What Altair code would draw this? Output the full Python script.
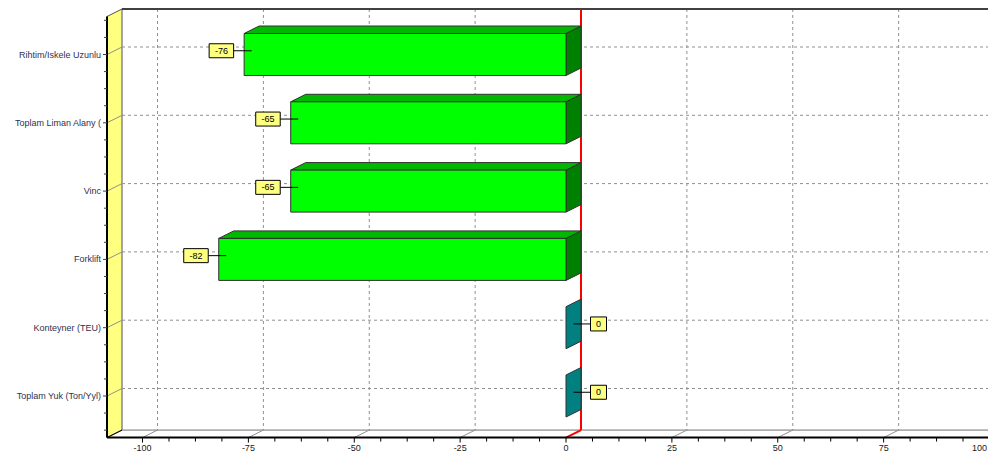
import altair as alt
import pandas as pd

# ---------------- data ----------------
categories = ["Rihtim/Iskele Uzunlu", "Toplam Liman Alany (", "Vinc", "Forklift",
              "Konteyner (TEU)", "Toplam Yuk (Ton/Yyl)"]
values = [-76, -65, -65, -82, 0, 0]
front_colors = ["#00FF00", "#00FF00", "#00FF00", "#00FF00", "#00A0A0", "#00A0A0"]
top_colors = ["#00B800", "#00B800", "#00B800", "#00B800", "#009090", "#009090"]
side_colors = ["#008000", "#008000", "#008000", "#008000", "#008080", "#008080"]
x_ticks = [-100, -75, -50, -25, 0, 25, 50, 75, 100]

# ---------------- layout ----------------
W, H = 980, 446
PX = 4.235          # pixels per value unit
ROW = 68.3          # pixels per category
X0 = 558.0          # front zero (chart px)
Y0 = 46.5           # first category centre (chart px)
XDOM = [-X0 / PX, (W - X0) / PX]
YDOM = [-Y0 / ROW, (H - Y0) / ROW]

DX = 15 / PX        # depth offset in value units
DY = -7.5 / ROW     # depth offset in row units
HALF = 21 / ROW     # half bar thickness


def ux(px):
    return px / PX


def uy(px):
    return px / ROW


LEFT_F = (99 - X0) / PX
LEFT_B = LEFT_F + DX
RIGHT = XDOM[1] + 10
BOT_F = 5.6087
BOT_B = BOT_F + DY
TOP_B = (1.0 - Y0) / ROW
TOP_F = TOP_B - DY

xs = alt.Scale(domain=XDOM, nice=False, zero=False)
ys = alt.Scale(domain=YDOM, nice=False, zero=False, reverse=True)


def X(f="x"):
    return alt.X(f"{f}:Q", scale=xs, axis=None)


def Y(f="y"):
    return alt.Y(f"{f}:Q", scale=ys, axis=None)


def rules(rows, color, width=1, dash=None):
    df = pd.DataFrame(rows)
    kw = dict(color=color, strokeWidth=width, clip=True)
    if dash:
        kw["strokeDash"] = dash
    enc = dict(x=X("x"), y=Y("y"))
    if "x2" in df:
        enc["x2"] = alt.X2("x2:Q")
    if "y2" in df:
        enc["y2"] = alt.Y2("y2:Q")
    return alt.Chart(df).mark_rule(**kw).encode(**enc)


n = len(categories)
idx = list(range(n))

# ---------------- frame ----------------
wall = alt.Chart(pd.DataFrame({
    "x": [LEFT_F, LEFT_B], "y": [TOP_F, TOP_B], "y2": [BOT_F, BOT_B]
})).mark_area(fill="#FFFF80", stroke="#505050", strokeWidth=1, orient="vertical").encode(
    x=X("x"), y=Y("y"), y2=alt.Y2("y2:Q"))

wall_left = rules([{"x": LEFT_F, "y": TOP_F, "y2": BOT_F}], "#000000", 2)
back_top = rules([{"x": LEFT_B, "x2": RIGHT, "y": TOP_B}], "#404040", 2)
back_bottom = rules([{"x": LEFT_B, "x2": RIGHT, "y": BOT_B}], "#707070", 1)
front_bottom = rules([{"x": LEFT_F, "x2": RIGHT, "y": BOT_F}], "#000000", 2)
wall_bottom = rules([{"x": LEFT_F, "y": BOT_F, "x2": LEFT_B, "y2": BOT_B}], "#000000", 1)

# vertical grid
vgrid = rules([{"x": t + DX, "y": TOP_B, "y2": BOT_B} for t in x_ticks if t != 0],
              "#909090", 1, [3, 3])
vdiag = rules([{"x": t + DX, "y": BOT_B, "x2": t, "y2": BOT_F} for t in x_ticks if t != 0],
              "#909090", 1)
# horizontal grid
hgrid = rules([{"x": LEFT_B, "x2": RIGHT, "y": i + DY} for i in idx], "#909090", 1, [3, 3])
hdiag = rules([{"x": LEFT_F, "y": i, "x2": LEFT_B, "y2": i + DY} for i in idx], "#909090", 1)

# ticks
ytick = rules([{"x": LEFT_F - ux(4), "x2": LEFT_F, "y": i} for i in idx], "#404040", 1)
yminor_pos = [k / 4 for k in range(-2, 4 * n + 2) if k % 4 != 0]
yminor = rules([{"x": LEFT_F - ux(3), "x2": LEFT_F, "y": p} for p in yminor_pos
                if TOP_F < p < BOT_F], "#404040", 1)
xtick = rules([{"x": t, "y": BOT_F, "y2": BOT_F + uy(5)} for t in x_ticks], "#000000", 1)
xminor_pos = [t + k * 6.25 for t in x_ticks[:-1] for k in (1, 2, 3)]
xminor = rules([{"x": p, "y": BOT_F, "y2": BOT_F + uy(4)} for p in xminor_pos], "#000000", 1)

# zero line
red = rules([{"x": DX, "y": TOP_B, "y2": BOT_B},
             {"x": DX, "y": BOT_B, "x2": 0, "y2": BOT_F}], "#FF0000", 2)

# ---------------- bars ----------------
side_rows, top_rows, front_rows = [], [], []
for i, (c, v) in enumerate(zip(categories, values)):
    lo, hi = min(v, 0), max(v, 0)
    side_rows += [
        {"c": c, "x": hi, "y": i - HALF, "y2": i + HALF, "col": side_colors[i]},
        {"c": c, "x": hi + DX, "y": i - HALF + DY, "y2": i + HALF + DY, "col": side_colors[i]},
    ]
    if v != 0:
        top_rows += [
            {"c": c, "y": i - HALF, "x": lo, "x2": hi, "col": top_colors[i]},
            {"c": c, "y": i - HALF + DY, "x": lo + DX, "x2": hi + DX, "col": top_colors[i]},
        ]
        front_rows.append({"c": c, "x": lo, "x2": hi, "y": i - HALF, "y2": i + HALF,
                           "col": front_colors[i]})

side = alt.Chart(pd.DataFrame(side_rows)).mark_area(
    orient="vertical", stroke="#303030", strokeWidth=1).encode(
    x=X("x"), y=Y("y"), y2=alt.Y2("y2:Q"), detail="c:N",
    fill=alt.Fill("col:N", scale=None))
top = alt.Chart(pd.DataFrame(top_rows)).mark_area(
    orient="horizontal", stroke="#303030", strokeWidth=1).encode(
    y=Y("y"), x=X("x"), x2=alt.X2("x2:Q"), detail="c:N",
    fill=alt.Fill("col:N", scale=None))
front = alt.Chart(pd.DataFrame(front_rows)).mark_rect(
    stroke="#303030", strokeWidth=1).encode(
    x=X("x"), x2=alt.X2("x2:Q"), y=Y("y"), y2=alt.Y2("y2:Q"),
    fill=alt.Fill("col:N", scale=None))

# ---------------- value labels ----------------
lab_rows, line_rows = [], []
for i, v in enumerate(values):
    txt = f"{v}"
    wpx = 5 * sum(ch.isdigit() for ch in txt) + 3.5 * txt.count("-") + 11
    sx = v + DX / 2
    yy = i + DY / 2
    if v < 0:
        ex = sx - ux(18)
        bx1, bx2 = ex - ux(wpx), ex
    else:
        ex = sx + ux(17)
        bx1, bx2 = ex, ex + ux(wpx)
    line_rows.append({"x": sx, "x2": ex, "y": yy})
    lab_rows.append({"t": txt, "x1": bx1, "x2": bx2, "xc": (bx1 + bx2) / 2,
                     "y1": yy - uy(7), "y2": yy + uy(7), "y": yy})

conn = rules(line_rows, "#000000", 1)
ldf = pd.DataFrame(lab_rows)
boxes = alt.Chart(ldf).mark_rect(fill="#FFFF80", stroke="#000000", strokeWidth=1).encode(
    x=X("x1"), x2=alt.X2("x2:Q"), y=Y("y1"), y2=alt.Y2("y2:Q"))
box_text = alt.Chart(ldf).mark_text(font="Liberation Sans", fontSize=9, color="#000000",
                                    baseline="middle", align="center").encode(
    x=X("xc"), y=Y("y"), text="t:N")

# ---------------- axis labels ----------------
cat_text = alt.Chart(pd.DataFrame({"c": categories, "y": idx, "x": [LEFT_F - ux(6)] * n})).mark_text(
    font="Liberation Sans", fontSize=9, color="#303050", align="right", baseline="middle").encode(
    x=X("x"), y=Y("y"), text="c:N")

ylab = BOT_F + uy(10)
fit = [t for t in x_ticks if t + ux(10) < XDOM[1]]
edge = [t for t in x_ticks if t not in fit]
xt_text = alt.Chart(pd.DataFrame({"t": fit, "y": [ylab] * len(fit)})).mark_text(
    font="Liberation Sans", fontSize=9, color="#202020", align="center", baseline="middle"
).encode(x=X("t"), y=Y("y"), text="t:N")
xt_edge = alt.Chart(pd.DataFrame({"t": edge, "x": [XDOM[1] - ux(1)] * len(edge),
                                  "y": [ylab] * len(edge)})).mark_text(
    font="Liberation Sans", fontSize=9, color="#202020", align="right", baseline="middle"
).encode(x=X("x"), y=Y("y"), text="t:N")

chart = alt.layer(
    wall, vgrid, hgrid, back_top, back_bottom, vdiag, hdiag, red,
    side, top, front, conn, boxes, box_text,
    wall_left, wall_bottom, front_bottom, ytick, yminor, xtick, xminor,
    cat_text, xt_text, xt_edge
).properties(
    width=W, height=H, padding=0,
    autosize=alt.AutoSizeParams(type="none"),
    background="#FFFFFF",
).configure_view(stroke=None)

chart.save("out.html", embed_options={"renderer": "svg", "actions": False})
